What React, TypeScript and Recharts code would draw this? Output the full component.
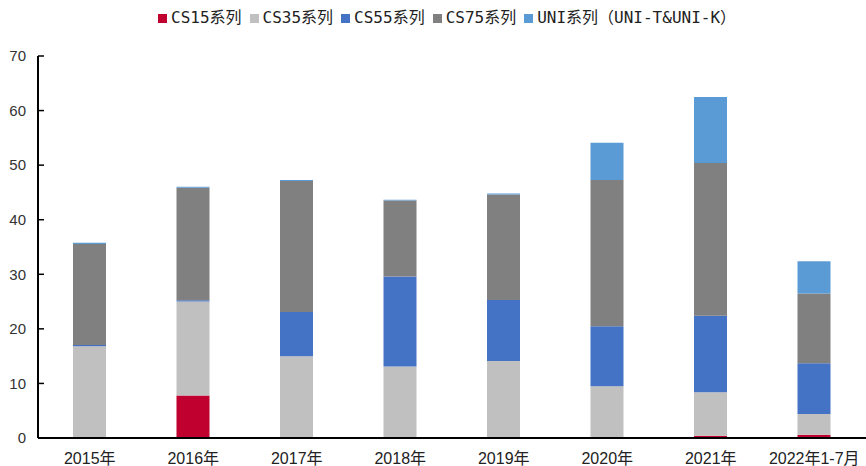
import React from 'react';
import { BarChart, Bar, XAxis, YAxis, Legend } from 'recharts';

const categories = ['2015年', '2016年', '2017年', '2018年', '2019年', '2020年', '2021年', '2022年1-7月'];
const cs15 = [0, 7.8, 0, 0, 0, 0, 0.4, 0.6];
const cs35 = [16.8, 17.2, 15.0, 13.1, 14.1, 9.5, 8.0, 3.8];
const cs55 = [0.25, 0.25, 8.1, 16.5, 11.2, 11.0, 14.0, 9.3];
const cs75 = [18.5, 20.6, 24.0, 13.9, 19.3, 26.8, 28.0, 12.8];
const uni = [0.25, 0.2, 0.2, 0.15, 0.2, 6.8, 12.1, 5.9];
const yTicks = [0, 10, 20, 30, 40, 50, 60, 70];

const seriesNames = ['CS15系列', 'CS35系列', 'CS55系列', 'CS75系列', 'UNI系列（UNI-T&UNI-K）'];
const seriesKeys = ['cs15', 'cs35', 'cs55', 'cs75', 'uni'];
const seriesColors = ['#C0002F', '#C0C0C0', '#4472C4', '#808080', '#5B9BD5'];

const data = categories.map((c, i) => ({
  name: c,
  cs15: cs15[i],
  cs35: cs35[i],
  cs55: cs55[i],
  cs75: cs75[i],
  uni: uni[i],
}));

const legendFont = '"DejaVu Sans Mono", "Noto Sans CJK SC", monospace';
const axisFont = '"Liberation Sans", Arial, "Noto Sans CJK SC", sans-serif';

const LegendContent = () => (
  <div style={{ height: 20, display: 'flex', justifyContent: 'flex-start', alignItems: 'center', fontFamily: legendFont, fontSize: 16, color: '#222', paddingLeft: 158, boxSizing: 'border-box' }}>
    {seriesNames.map((n, i) => (
      <div key={n} style={{ display: 'flex', alignItems: 'center', marginRight: 8 }}>
        <span style={{ display: 'inline-block', width: 9, height: 9, background: seriesColors[i], marginRight: 4 }} />
        <span style={{ whiteSpace: 'pre', lineHeight: '20px' }}>{n}</span>
      </div>
    ))}
  </div>
);

export default function App() {
  return (
    <div style={{ position: 'absolute', left: 0, top: 0, width: 866, height: 466, background: '#fff' }}>
      <BarChart width={866} height={466} data={data} margin={{ top: 36, right: 0, bottom: 0, left: 0 }} barSize={33}>
        <Legend verticalAlign="top" content={<LegendContent />} wrapperStyle={{ top: 8, left: 0, width: 866, height: 20 }} />
        <XAxis
          dataKey="name"
          height={28}
          tickLine={false}
          axisLine={{ stroke: '#000', strokeWidth: 2 }}
          tick={{ fill: '#222', fontSize: 16, fontFamily: axisFont }}
          tickMargin={9}
          interval={0}
        />
        <YAxis
          width={38}
          domain={[0, 70]}
          ticks={yTicks}
          interval={0}
          axisLine={{ stroke: '#000', strokeWidth: 2 }}
          tickLine={{ stroke: '#000', strokeWidth: 1.5 }}
          tickSize={-6}
          tickMargin={18}
          tick={{ fill: '#333', fontSize: 15, fontFamily: axisFont }}
        />
        {seriesKeys.map((k, i) => (
          <Bar key={k} dataKey={k} name={seriesNames[i]} stackId="a" fill={seriesColors[i]} isAnimationActive={false} />
        ))}
      </BarChart>
    </div>
  );
}
